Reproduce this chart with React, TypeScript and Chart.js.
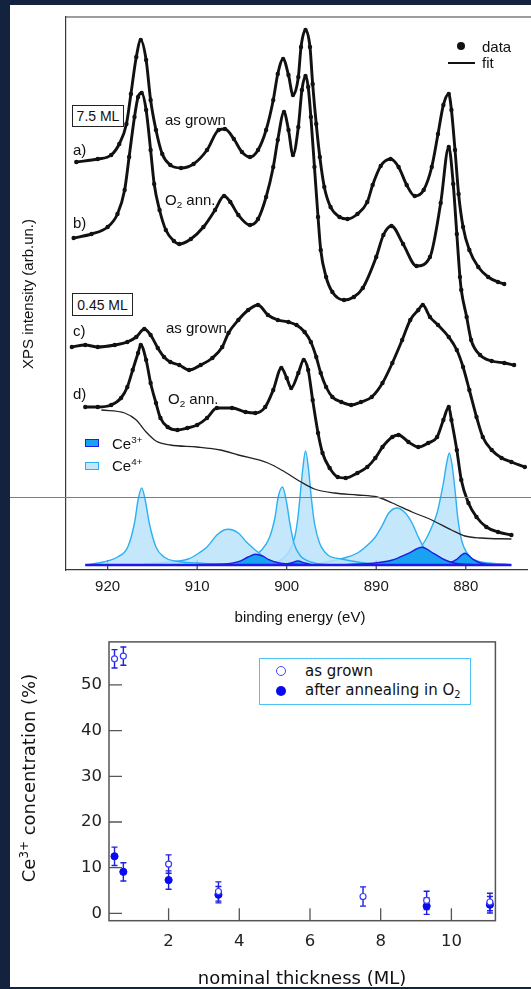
import React, { useEffect, useRef } from "react";
import { Chart, registerables } from "chart.js";
Chart.register(...registerables);

// ---------------- Top panel: XPS Ce 3d spectra (binding energy eV, intensity arb. units) ----------------
const energyTicks = [920, 910, 900, 890, 880];

const spec75AsGrown: number[][] = [
  [923.5,408],[921.1,411],[919.6,415],[918.7,426],[917.9,446],[917.4,476],[916.8,513],[916.3,530],[915.7,510],
  [915.2,470],[914.6,440],[913.9,416],[913.0,405],[911.8,402],[910.4,406],[908.9,420],[907.6,440],[906.9,441],
  [905.9,431],[905.0,418],[904.1,413],[903.2,420],[902.3,440],[901.5,470],[901.0,496],[900.4,511],[899.8,495],
  [899.3,475],[898.7,493],[898.4,523],[897.9,540],[897.4,523],[897.1,486],[896.7,446],[896.3,413],[895.8,383],
  [895.1,363],[894.1,353],[893.2,351],[892.1,356],[891.0,368],[890.4,385],[889.5,404],[888.4,411],[887.5,403],
  [886.6,385],[885.7,374],[884.7,380],[883.8,403],[883.1,436],[882.5,465],[881.9,476],[881.6,460],[881.2,420],
  [880.8,376],[880.3,343],[879.6,320],[878.6,303],[877.5,293],[876.4,288],[875.7,286]
];
const spec75Annealed: number[][] = [
  [923.8,332],[921.8,336],[920.0,343],[918.9,356],[918.1,380],[917.6,413],[917.0,453],[916.6,473],[916.2,477],
  [915.7,460],[915.2,420],[914.8,386],[914.2,360],[913.5,340],[912.6,329],[912.0,326],[910.7,331],[909.3,343],
  [908.0,360],[907.0,374],[906.3,368],[905.4,355],[904.1,345],[903.2,351],[902.3,373],[901.5,403],[901.0,430],
  [900.3,458],[899.8,440],[899.3,415],[898.7,443],[898.3,480],[897.9,494],[897.6,483],[897.3,453],[896.9,403],
  [896.5,353],[896.2,320],[895.6,293],[894.9,278],[893.6,270],[892.5,273],[891.5,282],[890.0,313],[889.2,335],
  [888.3,344],[887.0,326],[885.5,304],[884.0,313],[882.8,367],[881.9,423],[881.4,386],[881.0,336],[880.65,293],
  [880.5,280],[879.9,253],[879.4,230],[878.4,215],[877.1,209],[875.7,207],[874.6,205]
];
const spec045AsGrown: number[][] = [
  [924.0,223],[922.5,225],[921.1,223],[919.2,225],[917.8,228],[916.8,233],[915.9,241],[915.2,235],[914.4,222],
  [913.7,213],[913.0,208],[912.0,205],[910.9,200],[909.6,205],[908.3,212],[907.2,223],[906.5,237],[905.4,250],
  [904.3,260],[903.2,265],[902.1,255],[901.0,250],[899.8,248],[898.9,245],[898.0,238],[897.3,228],[896.7,213],
  [896.2,197],[895.6,183],[894.9,173],[893.9,168],[892.8,165],[891.7,168],[890.5,173],[889.3,187],[888.2,207],
  [887.1,230],[886.2,250],[885.3,260],[884.8,265],[884.0,253],[883.1,245],[881.9,233],[881.0,220],[880.3,203],
  [879.6,180],[878.8,153],[878.1,133],[877.1,120],[876.0,112],[874.9,108],[873.4,103]
];
const spec045Annealed: number[][] = [
  [922.5,163],[921.1,163],[919.6,165],[918.5,172],[917.8,183],[917.2,200],[916.6,217],[916.3,225],[915.7,210],
  [915.2,187],[914.6,167],[914.1,152],[913.3,143],[912.2,140],[911.1,142],[910.0,145],[908.9,152],[907.8,162],
  [906.1,162],[904.6,158],[903.5,157],[902.4,163],[901.5,180],[900.6,202],[900.0,192],[899.5,182],[898.7,197],
  [898.1,210],[897.6,200],[897.1,170],[896.5,137],[896.0,117],[895.2,102],[894.3,93],[893.4,92],[892.1,97],
  [891.0,103],[890.1,112],[889.3,123],[888.2,133],[887.5,135],[886.4,128],[885.3,123],[884.2,127],[883.2,133],
  [882.5,150],[881.9,163],[881.6,150],[881.0,120],[880.5,90],[879.7,67],[878.8,53],[877.7,43],[876.4,38],[874.9,35]
];
const shirleyBackground: number[][] = [
  [920.7,160],[918.1,157],[916.8,150],[915.7,138],[914.6,129],[913.0,125],[910.0,123],[907.4,120],[905.4,115],
  [902.1,107],[900.2,98],[898.4,88],[896.9,81],[894.7,77],[892.1,75],[889.9,73],[888.2,67],[886.0,58],[883.8,50],
  [881.6,40],[880.1,34],[878.3,32],[874.9,31]
];
const componentBaseline: number[][] = [[922.5,5],[874.9,5]];

const ce4Peak916: number[][] = [[922.5,5],[920.5,8],[918.9,13],[917.75,23],[917.0,47],[916.6,70],[916.2,82],[915.8,70],[915.35,47],[914.6,23],[913.7,13],[912.5,9],[910,7],[906,5]];
const ce4Peak907: number[][] = [[916,6],[913,8],[911,11],[909.8,17],[908.9,23],[907.8,35],[907,40],[906.5,40.7],[905.4,37],[904.5,28],[903.5,20],[902.4,12],[901.3,7],[899,5]];
const ce4Peak900: number[][] = [[907,5],[905,9],[903.9,13],[902.8,20],[901.9,33],[901.3,53],[900.95,73],[900.47,83],[900.0,67],[899.65,47],[899.2,27],[898.55,15],[897.3,8],[895,5]];
const ce4Peak898: number[][] = [[905,5],[901.3,8],[899.84,17],[899.1,33],[898.74,53],[898.44,80],[898.18,103],[897.9,119],[897.55,100],[897.26,73],[896.9,47],[896.33,27],[895.4,15],[893.9,11],[892.1,8],[889,5]];
const ce4Peak888: number[][] = [[897,5],[895,9],[893.6,12],[892.1,17],[890.6,28],[890.1,33],[889.3,45],[888.6,57],[887.66,62],[886.75,57],[886.0,47],[885.3,33],[884.5,20],[883.4,12],[881.9,8],[879,5]];
const ce4Peak882: number[][] = [[890,6],[887.1,10],[885.6,17],[884.5,30],[883.8,43],[883.2,57],[882.87,70],[882.5,87],[882.13,107],[881.83,117],[881.5,103],[881.2,80],[880.9,53],[880.47,30],[879.7,15],[878.25,8],[875.7,6],[874.9,5]];

const ce3Peak903: number[][] = [[912,5],[907,6],[905.4,8.3],[904.3,13],[903.5,15.7],[902.7,14],[902.06,10.7],[900.95,7.3],[899.5,6],[896,5]];
const ce3Peak899: number[][] = [[900.5,5],[899.5,7],[898.74,9],[898,7],[897,5]];
const ce3Peak885: number[][] = [[895,5],[890.4,6.7],[888.2,10],[886.4,16.7],[884.9,22.7],[883.6,16.7],[882.3,10],[881.2,6.7],[878,5]];
const ce3Peak880: number[][] = [[884,5],[881.8,7.3],[881.0,10.7],[880.1,16.7],[879.2,10.7],[878.25,6.7],[876,5]];

// ---------------- Bottom panel: Ce3+ concentration vs nominal thickness ----------------
const thicknessTicks = [2, 4, 6, 8, 10];
const concTicks = [0, 10, 20, 30, 40, 50];
const thicknessAsGrown = [0.47, 0.72, 2.0, 3.41, 7.5, 9.3, 11.09];
const ce3AsGrown = [55.7, 56.3, 10.8, 4.8, 3.7, 2.85, 2.5];
const errAsGrown = [2.0, 2.0, 2.0, 2.1, 2.1, 2.0, 1.9];
const thicknessAnnealed = [0.47, 0.72, 2.0, 3.41, 9.3, 11.09];
const ce3Annealed = [12.5, 9.1, 7.3, 4.1, 1.6, 1.9];
const errAnnealed = [2.0, 2.0, 2.0, 1.8, 1.8, 1.8];

// ---------------- styles ----------------
const NAVY = "#13233f";
const CE4_LINE = "#2cb0f2";
const CE4_FILL = "rgba(186,227,250,0.85)";
const CE3_LINE = "#1c1ce6";
const CE3_FILL = "#1aa2f2";
const AXIS = "#3a3a3a";
const SANS = "'Liberation Sans', Arial, sans-serif";
const VERD = "'DejaVu Sans', Verdana, sans-serif";

const pts = (a: number[][]) => a.map(([x, y]) => ({ x, y }));

const topFrame = {
  id: "topFrame",
  beforeDatasetsDraw(chart: any) {
    const { ctx, chartArea, scales } = chart;
    ctx.save();
    ctx.strokeStyle = AXIS;
    ctx.lineWidth = 1.2;
    energyTicks.forEach((v) => {
      const x = scales.x.getPixelForValue(v);
      ctx.beginPath();
      ctx.moveTo(x, chartArea.bottom);
      ctx.lineTo(x, chartArea.bottom - 10);
      ctx.stroke();
    });
    ctx.restore();
  },
  afterDraw(chart: any) {
    const { ctx, chartArea } = chart;
    ctx.save();
    ctx.strokeStyle = AXIS;
    ctx.lineWidth = 1.2;
    ctx.beginPath();
    ctx.moveTo(chartArea.left, chartArea.top);
    ctx.lineTo(chart.width, chartArea.top);
    ctx.stroke();
    ctx.restore();
  },
};

const errorBars = {
  id: "errorBars",
  beforeDatasetsDraw(chart: any) {
    const { ctx, scales } = chart;
    const sets = [
      { xs: thicknessAsGrown, ys: ce3AsGrown, es: errAsGrown },
      { xs: thicknessAnnealed, ys: ce3Annealed, es: errAnnealed },
    ];
    ctx.save();
    ctx.strokeStyle = "#1f1fe0";
    ctx.lineWidth = 1.4;
    sets.forEach((s) => {
      s.xs.forEach((xv, i) => {
        const x = scales.x.getPixelForValue(xv);
        const y1 = scales.y.getPixelForValue(s.ys[i] + s.es[i]);
        const y2 = scales.y.getPixelForValue(s.ys[i] - s.es[i]);
        ctx.beginPath();
        ctx.moveTo(x, y1);
        ctx.lineTo(x, y2);
        ctx.moveTo(x - 3, y1);
        ctx.lineTo(x + 3, y1);
        ctx.moveTo(x - 3, y2);
        ctx.lineTo(x + 3, y2);
        ctx.stroke();
      });
    });
    ctx.restore();
  },
  afterDraw(chart: any) {
    const { ctx, chartArea, scales } = chart;
    ctx.save();
    ctx.strokeStyle = "#555";
    ctx.lineWidth = 1.5;
    ctx.strokeRect(chartArea.left, chartArea.top, chartArea.right - chartArea.left, chartArea.bottom - chartArea.top);
    ctx.lineWidth = 1.3;
    ctx.beginPath();
    thicknessTicks.forEach((v) => {
      const x = scales.x.getPixelForValue(v);
      ctx.moveTo(x, chartArea.bottom);
      ctx.lineTo(x, chartArea.bottom - 12.5);
    });
    concTicks.forEach((v) => {
      const y = scales.y.getPixelForValue(v);
      ctx.moveTo(chartArea.left, y);
      ctx.lineTo(chartArea.left + 13, y);
    });
    ctx.stroke();
    ctx.restore();
  },
};

function TopChart() {
  const ref = useRef<HTMLCanvasElement>(null);
  useEffect(() => {
    const ce4 = [ce4Peak916, ce4Peak907, ce4Peak900, ce4Peak898, ce4Peak888, ce4Peak882];
    const ce3 = [ce3Peak903, ce3Peak899, ce3Peak885, ce3Peak880];
    const dataCurve = (a: number[][]) => ({
      data: pts(a),
      borderColor: "#111",
      borderWidth: 2.9,
      pointRadius: 2.2,
      pointBackgroundColor: "#111",
      pointBorderWidth: 0,
      cubicInterpolationMode: "monotone",
      fill: false,
      order: 0,
    });
    const chart = new Chart(ref.current as HTMLCanvasElement, {
      type: "line",
      data: {
        datasets: [
          ...[spec75AsGrown, spec75Annealed, spec045AsGrown, spec045Annealed].map(dataCurve),
          {
            data: pts(shirleyBackground),
            borderColor: "#222",
            borderWidth: 1.3,
            pointRadius: 0,
            cubicInterpolationMode: "monotone",
            fill: false,
            order: 1,
          },
          {
            data: pts(componentBaseline),
            borderColor: CE3_LINE,
            borderWidth: 2.5,
            pointRadius: 0,
            fill: false,
            order: 2,
          },
          ...ce3.map((c) => ({
            data: pts(c),
            borderColor: CE3_LINE,
            backgroundColor: CE3_FILL,
            borderWidth: 1.4,
            pointRadius: 0,
            cubicInterpolationMode: "monotone",
            fill: { value: 5 },
            order: 3,
          })),
          ...ce4.map((c) => ({
            data: pts(c),
            borderColor: CE4_LINE,
            backgroundColor: CE4_FILL,
            borderWidth: 1.4,
            pointRadius: 0,
            cubicInterpolationMode: "monotone",
            fill: { value: 5 },
            order: 4,
          })),
        ] as any,
      },
      options: {
        animation: false,
        responsive: false,
        maintainAspectRatio: false,
        devicePixelRatio: 1,
        layout: { padding: { top: 17, left: 0, right: 0, bottom: 0 } },
        plugins: { legend: { display: false }, tooltip: { enabled: false } },
        scales: {
          x: {
            type: "linear",
            reverse: true,
            min: 873.16,
            max: 924.65,
            afterBuildTicks: (s: any) => {
              s.ticks = energyTicks.map((v) => ({ value: v }));
            },
            afterFit: (s: any) => {
              s.height = 60;
            },
            grid: { display: false, drawTicks: false },
            border: { display: true, color: AXIS, width: 1.2 },
            ticks: { font: { family: SANS, size: 15 }, color: "#1a1a1a", padding: 8, maxRotation: 0, autoSkip: false },
          },
          y: {
            type: "linear",
            min: 0,
            max: 553,
            afterFit: (s: any) => {
              s.width = 66;
            },
            grid: { display: false, drawTicks: false },
            border: { display: true, color: AXIS, width: 1.2 },
            ticks: { display: false },
          },
        },
      } as any,
      plugins: [topFrame],
    });
    return () => chart.destroy();
  }, []);
  return <canvas ref={ref} width={531} height={630} style={{ position: "absolute", left: 0, top: 0, width: 531, height: 630 }} />;
}

function BottomChart() {
  const ref = useRef<HTMLCanvasElement>(null);
  useEffect(() => {
    const chart = new Chart(ref.current as HTMLCanvasElement, {
      type: "scatter",
      data: {
        datasets: [
          {
            label: "as grown",
            data: thicknessAsGrown.map((x, i) => ({ x, y: ce3AsGrown[i] })),
            pointRadius: 3,
            pointBackgroundColor: "#ffffff",
            pointBorderColor: "#3b3bff",
            pointBorderWidth: 1.2,
          },
          {
            label: "after annealing in O2",
            data: thicknessAnnealed.map((x, i) => ({ x, y: ce3Annealed[i] })),
            pointRadius: 3.6,
            pointBackgroundColor: "#0a0af2",
            pointBorderColor: "#0a0af2",
            pointBorderWidth: 1,
          },
        ],
      },
      options: {
        animation: false,
        responsive: false,
        maintainAspectRatio: false,
        devicePixelRatio: 1,
        layout: { padding: { top: 11, right: 35.6, left: 0, bottom: 0 } },
        plugins: { legend: { display: false }, tooltip: { enabled: false } },
        scales: {
          x: {
            type: "linear",
            min: 0.314,
            max: 11.245,
            afterBuildTicks: (s: any) => {
              s.ticks = thicknessTicks.map((v) => ({ value: v }));
            },
            afterFit: (s: any) => {
              s.height = 68.3;
            },
            grid: { display: false, drawTicks: false },
            border: { display: false },
            ticks: { font: { family: VERD, size: 16.5 }, color: "#222", padding: 11, maxRotation: 0, autoSkip: false },
          },
          y: {
            type: "linear",
            min: -1.59,
            max: 59.4,
            afterBuildTicks: (s: any) => {
              s.ticks = concTicks.map((v) => ({ value: v }));
            },
            afterFit: (s: any) => {
              s.width = 109;
            },
            grid: { display: false, drawTicks: false },
            border: { display: false },
            ticks: { font: { family: VERD, size: 16.5 }, color: "#222", padding: 7, autoSkip: false },
          },
        },
      } as any,
      plugins: [errorBars],
    });
    return () => chart.destroy();
  }, []);
  return <canvas ref={ref} width={531} height={364} style={{ position: "absolute", left: 0, top: 625, width: 531, height: 364 }} />;
}

function T(props: any) {
  const { x, y, size = 15, fam = SANS, anchor = "left", rot = 0, color = "#111", children } = props;
  const tx = anchor === "center" ? "-50%" : "0";
  return (
    <div
      style={{
        position: "absolute",
        left: x,
        top: y,
        transform: `translate(${tx}, -50%)` + (rot ? ` rotate(${rot}deg)` : ""),
        fontFamily: fam,
        fontSize: size,
        color,
        whiteSpace: "nowrap",
        lineHeight: 1,
      }}
    >
      {children}
    </div>
  );
}

const Sub = ({ c }: any) => <span style={{ fontSize: "0.66em", position: "relative", top: "0.3em" }}>{c}</span>;
const Sup = ({ c }: any) => <span style={{ fontSize: "0.66em", position: "relative", top: "-0.6em" }}>{c}</span>;

export default function App() {
  const boxStyle = (l: number, t: number, w: number, h: number): any => ({
    position: "absolute",
    left: l,
    top: t,
    width: w,
    height: h,
    boxSizing: "border-box",
    border: "1.3px solid #222",
    fontFamily: SANS,
    fontSize: 14,
    display: "flex",
    alignItems: "center",
    justifyContent: "center",
    color: "#111",
    background: "#fff",
  });
  return (
    <div style={{ position: "fixed", left: 0, top: 0, width: 531, height: 989, background: NAVY, overflow: "hidden" }}>
      <div style={{ position: "absolute", left: 10, top: 5, width: 521, height: 982, background: "#fff" }} />
      <TopChart />
      <BottomChart />
      {/* separator line */}
      <div style={{ position: "absolute", left: 10, top: 497, width: 521, height: 1, background: "#75808c" }} />
      {/* top panel annotations */}
      <div style={boxStyle(72, 105, 52, 22)}>7.5 ML</div>
      <div style={boxStyle(72, 293, 61, 23)}>0.45 ML</div>
      <T x={165} y={119}>as grown</T>
      <T x={73} y={149}>a)</T>
      <T x={165} y={199}>O<Sub c="2" /> ann.</T>
      <T x={73} y={222}>b)</T>
      <T x={166} y={327}>as grown</T>
      <T x={73} y={330}>c)</T>
      <T x={73} y={393}>d)</T>
      <T x={168} y={398}>O<Sub c="2" /> ann.</T>
      <div style={{ position: "absolute", left: 457, top: 42, width: 8, height: 8, borderRadius: 4, background: "#111" }} />
      <T x={482} y={46}>data</T>
      <div style={{ position: "absolute", left: 448, top: 62, width: 27, height: 1.5, background: "#111" }} />
      <T x={482} y={62}>fit</T>
      <div style={{ position: "absolute", left: 85, top: 439, width: 14, height: 8, boxSizing: "border-box", border: `1.5px solid ${CE3_LINE}`, background: CE3_FILL }} />
      <T x={112} y={443}>Ce<Sup c="3+" /></T>
      <div style={{ position: "absolute", left: 85, top: 462, width: 14, height: 8, boxSizing: "border-box", border: `1.5px solid ${CE4_LINE}`, background: "#c3e6fb" }} />
      <T x={112} y={465}>Ce<Sup c="4+" /></T>
      <T x={27} y={294} anchor="center" rot={-90}>XPS intensity (arb.un.)</T>
      <T x={300} y={616} anchor="center">binding energy (eV)</T>
      {/* bottom panel annotations */}
      <div style={{ position: "absolute", left: 259, top: 658, width: 212, height: 47, boxSizing: "border-box", border: "1.6px solid #4cc2f5", background: "#fff" }} />
      <div style={{ position: "absolute", left: 275.5, top: 666, width: 10, height: 10, boxSizing: "border-box", borderRadius: 5, border: "1.3px solid #4646ff", background: "#fff" }} />
      <T x={305} y={671} fam={VERD}>as grown</T>
      <div style={{ position: "absolute", left: 275.5, top: 685.5, width: 10, height: 10, borderRadius: 5, background: "#0a0af2" }} />
      <T x={305} y={690} fam={VERD}>after annealing in O<Sub c="2" /></T>
      <T x={29} y={778} anchor="center" rot={-90} fam={VERD} size={18}>Ce<Sup c="3+" /> concentration (%)</T>
      <T x={302} y={978} anchor="center" fam={VERD} size={18}>nominal thickness (ML)</T>
    </div>
  );
}
